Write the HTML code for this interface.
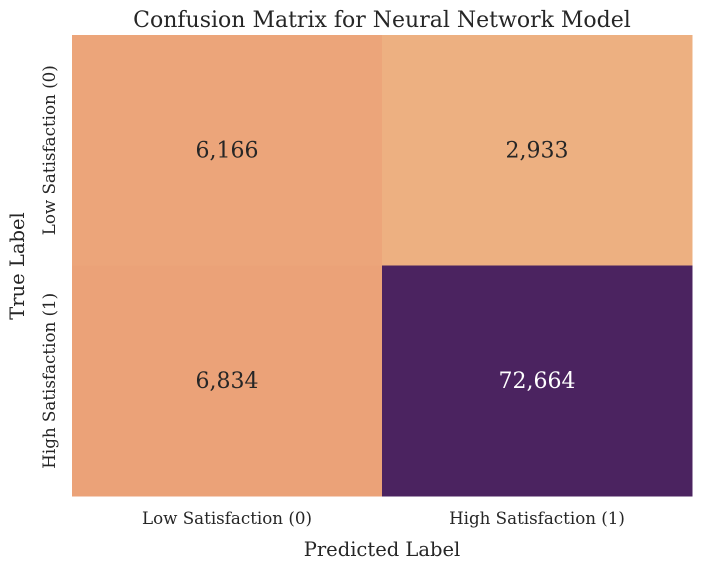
<!DOCTYPE html>
<html><head><meta charset="utf-8"><style>
body{margin:0;background:#fff;}
svg text{font-family:"DejaVu Serif","Liberation Serif",serif;fill:#262626;}
</style></head><body>
<svg width="702" height="569">
<text x="382" y="27" text-anchor="middle" font-size="22">Confusion Matrix for Neural Network Model</text>
<g id="cells"></g>
<g id="xt"></g><g id="yt"></g>
<text x="382" y="556" text-anchor="middle" font-size="19.5">Predicted Label</text>
<text transform="translate(24,266) rotate(-90)" text-anchor="middle" font-size="19.5">True Label</text>
</svg>
<script>
const predLabels=["Low Satisfaction (0)","High Satisfaction (1)"];
const trueLabels=["Low Satisfaction (0)","High Satisfaction (1)"];
const row0=[6166,2933];
const row1=[6834,72664];
const matrix=[row0,row1];
const stops=["#EDB081","#E98D6B","#E3685C","#D14A61","#B13C6C","#8F3371","#6C2B6D","#4B2360"];
const L=72,T=35,W=620,H=461;
const ns="http://www.w3.org/2000/svg";
function hex(h){return [1,3,5].map(i=>parseInt(h.substr(i,2),16));}
const all=matrix.flat(),mn=Math.min(...all),mx=Math.max(...all);
function color(v){let t=(v-mn)/(mx-mn)*(stops.length-1);let i=Math.min(Math.floor(t),stops.length-2),f=t-i;
const a=hex(stops[i]),b=hex(stops[i+1]);return "rgb("+a.map((c,k)=>Math.round(c+(b[k]-c)*f)).join(",")+")";}
const cw=W/predLabels.length,ch=H/trueLabels.length;
const g=document.getElementById("cells");
matrix.forEach((row,r)=>row.forEach((v,c)=>{
const rect=document.createElementNS(ns,"rect");


rect.setAttribute("x",L+c*cw);rect.setAttribute("y",T+r*ch);rect.setAttribute("width",cw+0.5);rect.setAttribute("height",ch+0.5);rect.setAttribute("fill",color(v));g.appendChild(rect);
const t=document.createElementNS(ns,"text");


t.setAttribute("x",L+(c+0.5)*cw);t.setAttribute("y",T+(r+0.5)*ch+7);t.setAttribute("text-anchor","middle");t.setAttribute("font-size","22");
if((v-mn)/(mx-mn)>0.5)t.style.fill="#fff";
t.textContent=v.toLocaleString("en-US");g.appendChild(t);}));
const xt=document.getElementById("xt");
predLabels.forEach((s,i)=>{const t=document.createElementNS(ns,"text");


t.setAttribute("x",L+(i+0.5)*cw);t.setAttribute("y",524);t.setAttribute("text-anchor","middle");t.setAttribute("font-size","16.7");t.textContent=s;xt.appendChild(t);});
const yt=document.getElementById("yt");
trueLabels.forEach((s,i)=>{const t=document.createElementNS(ns,"text");


t.setAttribute("transform","translate(55,"+(T+(i+0.5)*ch)+") rotate(-90)");t.setAttribute("text-anchor","middle");t.setAttribute("font-size","16.7");t.textContent=s;yt.appendChild(t);});
</script>
</body></html>
